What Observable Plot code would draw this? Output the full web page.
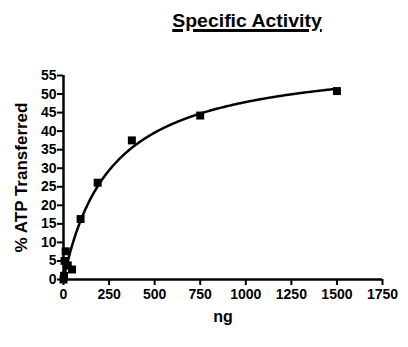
<!DOCTYPE html>
<html>
<head>
<meta charset="utf-8">
<script src="https://cdn.jsdelivr.net/npm/d3@7"></script>
<script src="https://cdn.jsdelivr.net/npm/@observablehq/plot@0.6"></script>
<style>
  html, body { margin: 0; padding: 0; background: #fff; }
  body { width: 408px; height: 347px; overflow: hidden; font-family: "Liberation Sans", Arial, sans-serif; }
  #title { height: 40px; position: relative; }
  #title span { position: absolute; left: 247px; top: 11px; transform: translateX(-50%) scaleX(1.08); white-space: nowrap;
    font-weight: bold; font-size: 18px; line-height: 20px; text-decoration: underline; text-decoration-thickness: 3px; text-underline-offset: 2px; color: #000; }
  svg text { font-family: "Liberation Sans", Arial, sans-serif; font-weight: bold; }
</style>
</head>
<body>
<div id="title"><span>Specific Activity</span></div>
<div id="chart"></div>
<script>
// Enzyme amount (ng) and measured transfer (%)
const ng = [0, 2.93, 5.86, 11.72, 23.44, 46.88, 93.75, 187.5, 375, 750, 1500];
const pctATP = [0, 1.0, 5.0, 7.6, 3.8, 2.7, 16.3, 26.1, 37.5, 44.2, 50.8];
const xTicks = [0, 250, 500, 750, 1000, 1250, 1500, 1750];
const yTicks = [0, 5, 10, 15, 20, 25, 30, 35, 40, 45, 50, 55];

const data = ng.map((x, i) => ({x, y: pctATP[i]}));

// One-site hyperbolic fit y = Bmax*x/(K + x), least squares over K
function fitHyperbola(pts) {
  let best = {sse: Infinity};
  for (let K = 1; K <= 3000; K += 0.5) {
    let sfy = 0, sff = 0;
    for (const p of pts) { const f = p.x / (K + p.x); sfy += f * p.y; sff += f * f; }
    const B = sfy / sff;
    let sse = 0;
    for (const p of pts) { const r = p.y - B * p.x / (K + p.x); sse += r * r; }
    if (sse < best.sse) best = {sse, K, B};
  }
  return best;
}
const fit = fitHyperbola(data);
const curve = d3.range(0, 1500.01, 5).map(x => ({x, y: fit.B * x / (fit.K + x)}));

const chart = Plot.plot({
  width: 408,
  height: 307,
  marginLeft: 63,
  marginRight: 26,
  marginTop: 35,
  marginBottom: 68,
  style: {fontSize: "14px", color: "#000", background: "#fff"},
  x: {domain: [0, 1750]},
  y: {domain: [0, 55]},
  marks: [
    Plot.ruleX([0], {y1: 0, y2: 55, strokeWidth: 2.5}),
    Plot.ruleY([0], {x1: 0, x2: 1750, strokeWidth: 2.5}),
    Plot.axisX({ticks: xTicks, tickFormat: d => String(d), tickSize: 6, tickPadding: 4, strokeWidth: 2, label: null}),
    Plot.axisY({ticks: yTicks, tickFormat: d => String(d), tickSize: 6, tickPadding: 1, strokeWidth: 2, label: null}),
    Plot.line(curve, {x: "x", y: "y", strokeWidth: 2.5, stroke: "#000"}),
    Plot.dot(data, {x: "x", y: "y", symbol: "square", r: 4.5, fill: "#000", stroke: null}),
    Plot.text(["ng"], {frameAnchor: "bottom", dy: 42, fontSize: 16, fontWeight: "bold"}),
    Plot.text(["% ATP Transferred"], {frameAnchor: "left", textAnchor: "middle", dx: -42, rotate: -90, fontSize: 17, fontWeight: "bold"})
  ]
});
document.getElementById("chart").appendChild(chart);
</script>
</body>
</html>
